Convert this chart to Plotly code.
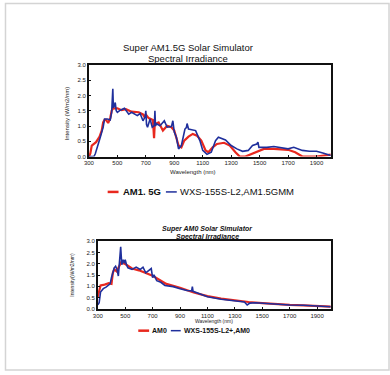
import plotly.graph_objects as go

W, H = 390, 375

# ---- Top chart: Super AM1.5G ----
wl_am15g = [300, 310, 320, 350, 375, 390, 400, 410, 420, 435, 450, 460, 470, 480, 500, 530, 560, 600, 650, 680,
            690, 700, 720, 750, 758, 762, 768, 790, 820, 850, 880, 900, 915, 930, 950, 970, 1000, 1030, 1060, 1090,
            1120, 1140, 1170, 1200, 1250, 1290, 1330, 1360, 1400, 1440, 1480, 1530, 1600, 1700, 1750, 1800, 1900, 1950, 2000]
am15g = [0, 0.1, 0.36, 0.47, 0.65, 0.85, 1.12, 1.2, 1.2, 1.1, 1.26, 1.5, 1.58, 1.58, 1.58, 1.52, 1.55, 1.47, 1.45, 1.38,
         1.3, 1.38, 1.26, 1.2, 0.6, 1.0, 1.07, 1.12, 0.85, 1.01, 0.96, 0.85, 0.6, 0.36, 0.3, 0.52, 0.65, 0.74, 0.68, 0.52,
         0.2, 0.14, 0.3, 0.41, 0.45, 0.36, 0.14, 0, 0, 0.07, 0.14, 0.25, 0.25, 0.22, 0.14, 0, 0, 0.03, 0.06]

wl_wxs15 = [300, 335, 345, 360, 380, 400, 410, 430, 450, 460, 465, 468, 472, 478, 485, 492, 500, 520, 550, 580,
            600, 640, 660, 680, 695, 700, 705, 712, 730, 745, 760, 764, 768, 775, 800, 830, 850, 880, 890, 900,
            915, 930, 950, 975, 985, 990, 1000, 1050, 1080, 1100, 1130, 1160, 1190, 1210, 1260, 1300, 1340, 1380, 1420, 1450,
            1480, 1488, 1495, 1500, 1550, 1600, 1650, 1700, 1740, 1800, 1850, 1900, 1950, 2000]
wxs15 = [0, 0, 0.09, 0.36, 0.63, 0.96, 1.23, 1.23, 1.2, 1.45, 1.9, 2.22, 1.6, 1.65, 1.77, 1.5, 1.45, 1.52, 1.58, 1.39,
         1.45, 1.34, 1.41, 1.17, 1.3, 1.5, 1.05, 0.96, 1.23, 0.96, 1.01, 1.5, 1.0, 1.07, 1.01, 1.17, 0.96, 0.98, 1.17, 0.8,
         0.63, 0.25, 0.36, 0.9, 0.95, 1.08, 0.9, 0.85, 0.52, 0.2, 0.07, 0.14, 0.52, 0.63, 0.54, 0.36, 0.25, 0.17, 0.2, 0.36,
         0.41, 0.47, 0.3, 0.3, 0.3, 0.33, 0.28, 0.25, 0.3, 0.2, 0.17, 0.17, 0.11, 0.03]

# ---- Bottom chart: Super AM0 ----
wl_am0 = [300, 320, 350, 380, 400, 410, 420, 440, 450, 470, 500, 550, 600, 700, 800, 900, 1000, 1100, 1200, 1300,
          1400, 1500, 1600, 1700, 1800, 2000]
am0 = [0.54, 1.04, 1.08, 1.14, 1.11, 1.6, 1.75, 1.65, 1.82, 2.06, 1.99, 1.79, 1.71, 1.47, 1.11, 0.94, 0.73, 0.57, 0.46, 0.37,
       0.31, 0.26, 0.21, 0.18, 0.16, 0.11]

wl_wxs0 = [300, 310, 320, 340, 360, 380, 390, 400, 420, 430, 440, 450, 458, 467, 475, 485, 495, 500, 510, 520,
           550, 580, 610, 630, 650, 670, 690, 700, 710, 730, 760, 790, 850, 900, 950, 985, 990, 995, 1050, 1100,
           1200, 1300, 1370, 1390, 1410, 1450, 1500, 1600, 1700, 1800, 1900, 2000]
wxs0 = [0.18, 0.28, 0.75, 0.9, 0.97, 1.04, 1.11, 1.39, 1.82, 1.89, 1.75, 1.46, 2.0, 2.75, 1.96, 2.18, 2.03, 2.18, 1.95, 1.82,
        1.75, 1.85, 1.75, 1.85, 1.6, 1.68, 1.79, 1.39, 1.51, 1.25, 1.18, 1.04, 0.99, 0.9, 0.82, 0.8, 0.99, 0.78, 0.65, 0.54,
        0.43, 0.36, 0.31, 0.18, 0.26, 0.28, 0.26, 0.21, 0.18, 0.17, 0.14, 0.1]

x_ticks = [300, 500, 700, 900, 1100, 1300, 1500, 1700, 1900]
y_ticks = [0.0, 0.5, 1.0, 1.5, 2.0, 2.5, 3.0]
names_top = ["AM1. 5G", "WXS-155S-L2,AM1.5GMM"]
names_bot = ["AM0", "WXS-155S-L2+,AM0"]
titles_top = ["Super AM1.5G Solar Simulator", "Spectral Irradiance"]
titles_bot = ["Super AM0 Solar Simulator", "Spectral Irradiance"]

RED = "#e8281e"
BLUE = "#1f2f9c"
FONT = "Arial, Liberation Sans"

def px(x):
    return x / W

def py(y):
    return 1 - y / H

fig = go.Figure()
fig.add_trace(go.Scatter(x=wl_am15g, y=am15g, mode="lines", line=dict(color=RED, width=2.2), name=names_top[0],
                         xaxis="x", yaxis="y", showlegend=False))
fig.add_trace(go.Scatter(x=wl_wxs15, y=wxs15, mode="lines", line=dict(color=BLUE, width=1.6), name=names_top[1],
                         xaxis="x", yaxis="y", showlegend=False))
fig.add_trace(go.Scatter(x=wl_am0, y=am0, mode="lines", line=dict(color=RED, width=2.2), name=names_bot[0],
                         xaxis="x2", yaxis="y2", showlegend=False))
fig.add_trace(go.Scatter(x=wl_wxs0, y=wxs0, mode="lines", line=dict(color=BLUE, width=1.6), name=names_bot[1],
                         xaxis="x2", yaxis="y2", showlegend=False))

tickfont = dict(family=FONT, size=6, color="#222")
axis_common = dict(showline=True, mirror=True, linecolor="#111", linewidth=1.5, ticks="inside", ticklen=2,
                   tickcolor="#111", showgrid=False, zeroline=False, tickfont=tickfont)

fig.update_layout(
    width=W, height=H, margin=dict(l=0, r=0, t=0, b=0),
    paper_bgcolor="white", plot_bgcolor="white", showlegend=False,
    xaxis=dict(domain=[px(85), px(330)], range=[300, 2000], tickvals=x_ticks, anchor="y", **axis_common),
    yaxis=dict(domain=[py(156), py(63)], range=[0, 3], tickvals=y_ticks, tickformat=".1f", anchor="x", **axis_common),
    xaxis2=dict(domain=[px(94), px(330)], range=[300, 2000], tickvals=x_ticks, anchor="y2", **axis_common),
    yaxis2=dict(domain=[py(311), py(242)], range=[0, 3], tickvals=y_ticks, tickformat=".1f", anchor="x2", **axis_common),
)

ann = []
# titles
ann.append(dict(x=px(185), y=py(45), text=titles_top[0], font=dict(family=FONT, size=9.5, color="#111")))
ann.append(dict(x=px(185), y=py(56), text=titles_top[1], font=dict(family=FONT, size=9.5, color="#111")))
ann.append(dict(x=px(205), y=py(230), text="<b><i>" + titles_bot[0] + "</i></b>", font=dict(family=FONT, size=7, color="#111")))
ann.append(dict(x=px(205), y=py(238), text="<b><i>" + titles_bot[1] + "</i></b>", font=dict(family=FONT, size=7, color="#111")))
# axis titles
ann.append(dict(x=px(190), y=py(172), text="Wavelength (nm)", font=dict(family=FONT, size=6, color="#222")))
ann.append(dict(x=px(63), y=py(112), text="Intensity (W/m2/nm)", textangle=-90, font=dict(family=FONT, size=6, color="#222")))
ann.append(dict(x=px(212), y=py(323), text="Wavelength (nm)", font=dict(family=FONT, size=5, color="#222")))
ann.append(dict(x=px(67), y=py(276), text="Intensity(W/m2/nm)", textangle=-90, font=dict(family=FONT, size=5, color="#222")))
# legend labels
ann.append(dict(x=px(117), y=py(192), text="<b>" + names_top[0] + "</b>", xanchor="left", font=dict(family=FONT, size=9.5, color="#111")))
ann.append(dict(x=px(175), y=py(192), text=names_top[1], xanchor="left", font=dict(family=FONT, size=9.5, color="#111")))
ann.append(dict(x=px(147), y=py(333), text="<b>" + names_bot[0] + "</b>", xanchor="left", font=dict(family=FONT, size=7, color="#111")))
ann.append(dict(x=px(179), y=py(333), text="<b>" + names_bot[1] + "</b>", xanchor="left", font=dict(family=FONT, size=7, color="#111")))
for a in ann:
    a.update(xref="paper", yref="paper", showarrow=False)
    a.setdefault("xanchor", "center")
    a.setdefault("yanchor", "middle")
fig.update_layout(annotations=ann)

shapes = [
    dict(type="line", xref="paper", yref="paper", x0=px(104), x1=px(115), y0=py(192), y1=py(192), line=dict(color=RED, width=2.5)),
    dict(type="line", xref="paper", yref="paper", x0=px(163), x1=px(174), y0=py(192), y1=py(192), line=dict(color=BLUE, width=1.5)),
    dict(type="line", xref="paper", yref="paper", x0=px(135), x1=px(146), y0=py(333), y1=py(333), line=dict(color=RED, width=2.5)),
    dict(type="line", xref="paper", yref="paper", x0=px(168), x1=px(178), y0=py(333), y1=py(333), line=dict(color=BLUE, width=1.5)),
    dict(type="rect", xref="paper", yref="paper", x0=px(0.5), x1=px(389), y0=py(373), y1=py(0.5), line=dict(color="#d4d4d4", width=1.5)),
]
fig.update_layout(shapes=shapes)

fig.write_html("out.html", config={"displayModeBar": False},
               post_script="document.body.style.margin='0';document.body.style.padding='0';document.body.style.overflow='hidden';")
